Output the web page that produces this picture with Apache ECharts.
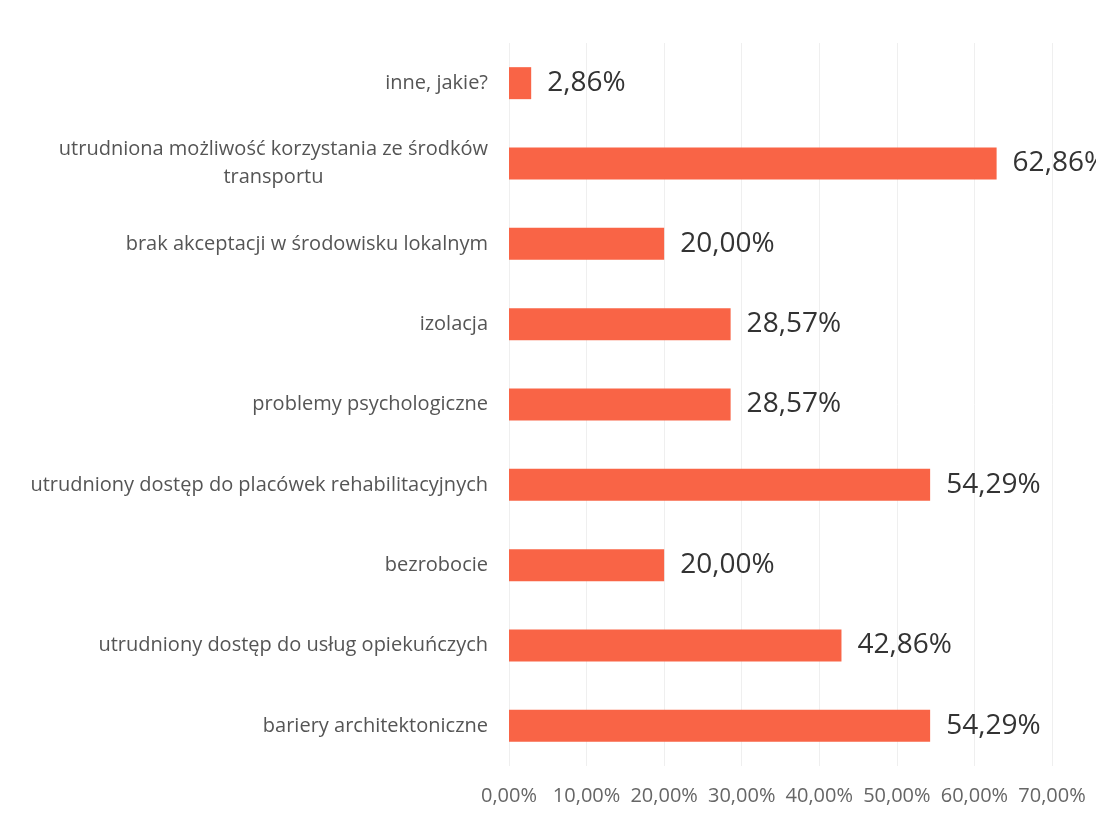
<!DOCTYPE html>
<html><head><meta charset="utf-8">
<script src="https://cdn.jsdelivr.net/npm/echarts@6/dist/echarts.min.js"></script>
<style>html,body{margin:0;padding:0;background:#fff}#c{width:1096px;height:818px}</style>
</head><body><div id="c"></div>
<script>
const categories = [
  "bariery architektoniczne",
  "utrudniony dostęp do usług opiekuńczych",
  "bezrobocie",
  "utrudniony dostęp do placówek rehabilitacyjnych",
  "problemy psychologiczne",
  "izolacja",
  "brak akceptacji w środowisku lokalnym",
  "utrudniona możliwość korzystania ze środków\ntransportu",
  "inne, jakie?"
];
const values = [54.29, 42.86, 20.00, 54.29, 28.57, 28.57, 20.00, 62.86, 2.86];
const tickMin = 0, tickMax = 70, tickStep = 10;

const fmt = v => v.toFixed(2).replace('.', ',') + '%';
const chart = echarts.init(document.getElementById('c'));
chart.setOption({
  backgroundColor: '#fff',
  animation: false,
  grid: { left: 509, right: 44, top: 43, bottom: 52, containLabel: false },
  xAxis: {
    type: 'value', min: tickMin, max: tickMax, interval: tickStep,
    axisLine: { show: false }, axisTick: { show: false },
    splitLine: { show: true, lineStyle: { color: '#efefef', width: 1 } },
    axisLabel: { formatter: v => fmt(v), color: '#666', fontSize: 20, fontFamily: 'Open Sans', margin: 20 }
  },
  yAxis: {
    type: 'category', data: categories,
    axisLine: { show: false }, axisTick: { show: false },
    axisLabel: {
      color: '#555', fontSize: 20, fontFamily: 'Open Sans', margin: 21,
      formatter: v => {
        if (v.indexOf('\n') >= 0) {
          const p = v.split('\n');
          return '{a|' + p[0] + '}\n{a|' + p[1] + '}';
        }
        return v;
      },
      rich: {
        a: { color: '#555', fontSize: 20, fontFamily: 'Open Sans', lineHeight: 28, align: 'center' }
      }
    }
  },
  series: [{
    type: 'bar', data: values, barWidth: 32,
    itemStyle: { color: '#F96446' },
    label: { show: true, position: 'right', distance: 16, formatter: p => fmt(p.value),
      color: '#333', fontSize: 28, fontFamily: 'Open Sans' }
  }]
});
</script></body></html>
